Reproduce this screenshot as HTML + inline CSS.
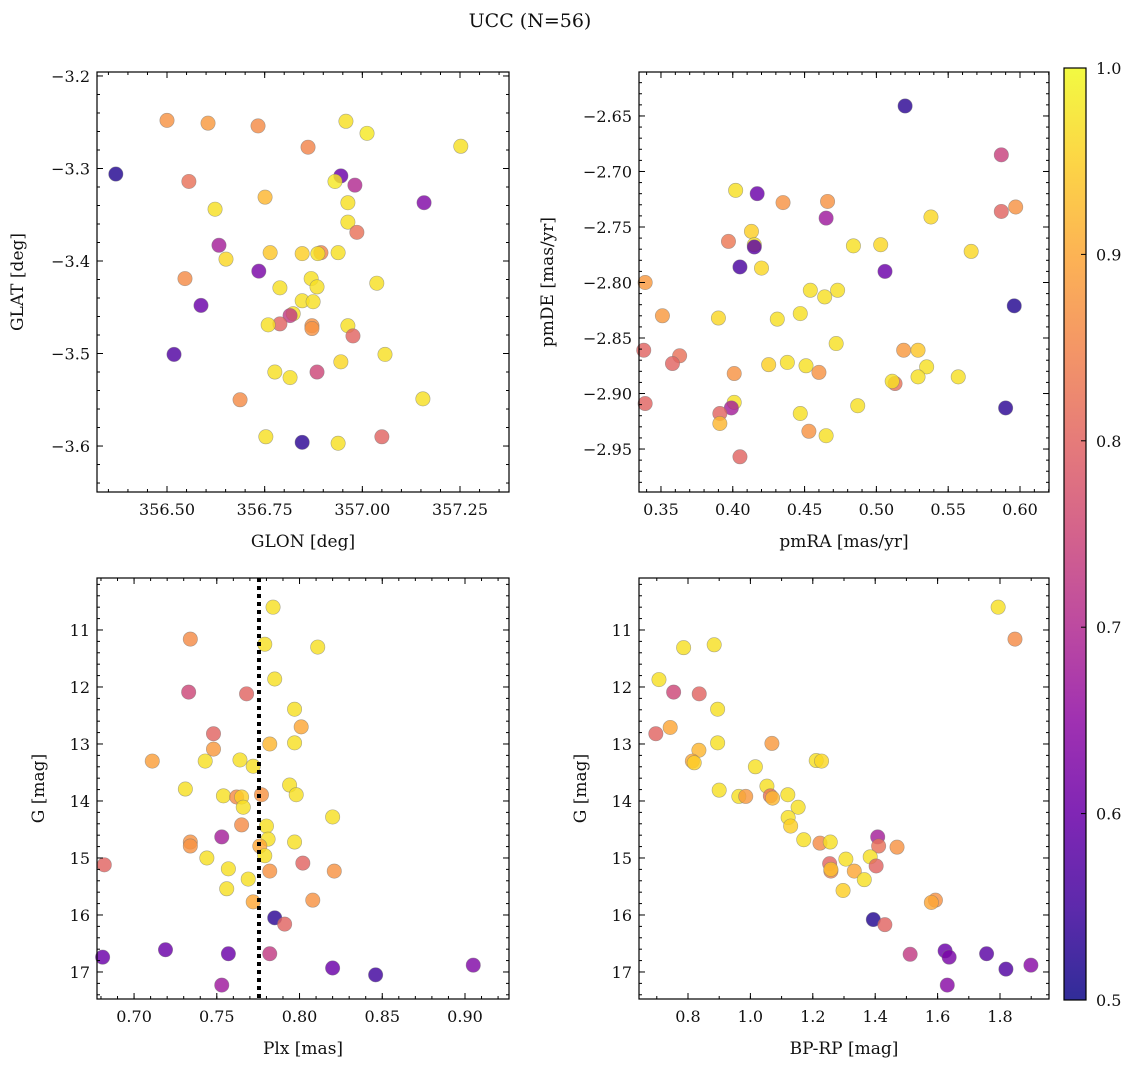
<!DOCTYPE html>
<html><head><meta charset="utf-8"><style>
html,body{margin:0;padding:0;background:#fff;}
svg text{font-family:"DejaVu Serif","Liberation Serif",serif;fill:#111;}
</style></head><body>
<svg id="fig" width="1136" height="1067" viewBox="0 0 1136 1067" xmlns="http://www.w3.org/2000/svg">
<defs>
<linearGradient id="plasma" x1="0" y1="1" x2="0" y2="0">
<stop offset="0" stop-color="#0d0887"/><stop offset="0.1" stop-color="#41049d"/><stop offset="0.2" stop-color="#6a00a8"/><stop offset="0.3" stop-color="#8f0da4"/><stop offset="0.4" stop-color="#b12a90"/><stop offset="0.5" stop-color="#cc4778"/><stop offset="0.6" stop-color="#e16462"/><stop offset="0.7" stop-color="#f2844b"/><stop offset="0.8" stop-color="#fca636"/><stop offset="0.9" stop-color="#fcce25"/><stop offset="1" stop-color="#f0f921"/>
</linearGradient>
</defs>
<text x="530" y="27" font-size="19" text-anchor="middle">UCC (N=56)</text>
</svg>
<script>
// Panel 1: GLON vs GLAT
const p1_glon=[356.50,356.605,356.733,356.958,357.012,356.861,357.252,356.369,356.556,356.945,356.981,356.930,356.751,356.623,357.158,356.963,356.963,356.986,356.633,356.764,356.846,356.894,356.886,356.938,356.651,356.735,356.546,356.869,356.884,357.037,356.789,356.587,356.846,356.874,356.823,356.815,356.789,356.759,356.871,356.871,356.963,356.976,356.518,357.058,356.945,356.776,356.884,356.815,356.687,357.155,356.753,356.846,356.938,357.050];
const p1_glat=[-3.248,-3.251,-3.254,-3.249,-3.262,-3.277,-3.276,-3.306,-3.314,-3.308,-3.318,-3.314,-3.331,-3.344,-3.337,-3.337,-3.358,-3.369,-3.383,-3.391,-3.392,-3.391,-3.392,-3.391,-3.398,-3.411,-3.419,-3.419,-3.428,-3.424,-3.429,-3.448,-3.443,-3.444,-3.457,-3.459,-3.468,-3.469,-3.470,-3.473,-3.470,-3.481,-3.501,-3.501,-3.509,-3.520,-3.520,-3.526,-3.550,-3.549,-3.590,-3.596,-3.597,-3.590];
const p1_prob=[0.87,0.88,0.86,0.97,0.98,0.85,0.97,0.52,0.82,0.6,0.7,0.98,0.92,0.97,0.63,0.97,0.97,0.82,0.68,0.94,0.95,0.85,0.97,0.97,0.96,0.62,0.86,0.97,0.97,0.97,0.97,0.6,0.97,0.97,0.97,0.73,0.8,0.97,0.87,0.87,0.97,0.8,0.57,0.97,0.96,0.97,0.75,0.97,0.86,0.97,0.97,0.53,0.97,0.8];
// Panel 2: pmRA vs pmDE
const p2_pmra=[0.520,0.587,0.402,0.417,0.466,0.597,0.435,0.587,0.538,0.465,0.413,0.415,0.397,0.415,0.503,0.484,0.566,0.405,0.420,0.506,0.339,0.454,0.473,0.464,0.596,0.447,0.351,0.390,0.431,0.472,0.338,0.519,0.529,0.363,0.358,0.438,0.451,0.425,0.535,0.460,0.401,0.557,0.529,0.513,0.511,0.339,0.401,0.487,0.590,0.399,0.391,0.447,0.391,0.453,0.465,0.405];
const p2_pmde=[-2.641,-2.685,-2.717,-2.720,-2.727,-2.732,-2.728,-2.736,-2.741,-2.742,-2.754,-2.766,-2.763,-2.768,-2.766,-2.767,-2.772,-2.786,-2.787,-2.790,-2.800,-2.807,-2.807,-2.813,-2.821,-2.828,-2.830,-2.832,-2.833,-2.855,-2.861,-2.861,-2.861,-2.866,-2.873,-2.872,-2.875,-2.874,-2.876,-2.881,-2.882,-2.885,-2.885,-2.891,-2.889,-2.909,-2.908,-2.911,-2.913,-2.913,-2.918,-2.918,-2.927,-2.934,-2.938,-2.957];
const p2_prob=[0.53,0.74,0.97,0.6,0.87,0.87,0.87,0.8,0.96,0.67,0.95,0.97,0.83,0.58,0.96,0.97,0.96,0.56,0.96,0.6,0.88,0.97,0.97,0.97,0.52,0.97,0.88,0.96,0.97,0.97,0.8,0.88,0.94,0.82,0.8,0.97,0.97,0.95,0.97,0.87,0.87,0.97,0.97,0.82,0.97,0.8,0.97,0.97,0.53,0.68,0.8,0.97,0.92,0.87,0.97,0.8];
// Panel 3: Plx vs G
const p3_plx=[0.784,0.779,0.811,0.734,0.785,0.733,0.768,0.797,0.801,0.748,0.782,0.797,0.748,0.711,0.743,0.764,0.772,0.731,0.794,0.754,0.762,0.765,0.777,0.798,0.766,0.820,0.780,0.765,0.781,0.753,0.734,0.734,0.776,0.797,0.744,0.779,0.682,0.802,0.757,0.782,0.821,0.769,0.756,0.772,0.808,0.785,0.791,0.719,0.757,0.782,0.681,0.820,0.905,0.846,0.753];
const p3_g=[10.60,11.25,11.30,11.16,11.86,12.09,12.12,12.39,12.70,12.82,13.00,12.98,13.09,13.30,13.30,13.28,13.39,13.79,13.72,13.91,13.93,13.93,13.89,13.89,14.11,14.28,14.44,14.42,14.67,14.63,14.72,14.79,14.79,14.72,15.00,14.96,15.12,15.09,15.19,15.23,15.23,15.37,15.54,15.77,15.74,16.05,16.16,16.61,16.68,16.68,16.74,16.93,16.88,17.05,17.23];
const p3_prob=[0.97,0.97,0.97,0.86,0.97,0.75,0.8,0.97,0.9,0.8,0.92,0.97,0.88,0.89,0.97,0.97,0.97,0.97,0.97,0.97,0.86,0.95,0.87,0.97,0.97,0.97,0.97,0.86,0.97,0.68,0.87,0.87,0.9,0.97,0.97,0.97,0.8,0.8,0.97,0.87,0.87,0.97,0.97,0.9,0.87,0.53,0.8,0.6,0.6,0.73,0.6,0.6,0.63,0.55,0.67];
const p3_cut=[0.7755];
// Panel 4: BP-RP vs G
const p4_bprp=[1.794,1.848,0.786,0.884,0.707,0.754,0.836,0.895,0.743,0.697,0.895,1.069,0.835,0.814,0.820,1.211,1.228,1.016,0.900,0.963,0.985,1.053,1.064,1.071,1.120,1.153,1.121,1.129,1.171,1.223,1.256,1.408,1.411,1.470,1.384,1.306,1.403,1.254,1.258,1.258,1.333,1.365,1.297,1.593,1.580,1.394,1.431,1.512,1.624,1.637,1.757,1.819,1.899,1.631];
const p4_g=[10.60,11.16,11.31,11.26,11.87,12.09,12.12,12.39,12.71,12.82,12.98,12.99,13.11,13.30,13.33,13.29,13.30,13.40,13.81,13.92,13.92,13.74,13.91,13.95,13.89,14.11,14.29,14.44,14.68,14.74,14.72,14.63,14.79,14.81,14.98,15.02,15.14,15.10,15.23,15.20,15.23,15.38,15.57,15.74,15.78,16.08,16.17,16.69,16.63,16.74,16.68,16.95,16.88,17.23];
const p4_prob=[0.97,0.86,0.97,0.97,0.97,0.75,0.8,0.97,0.9,0.8,0.97,0.88,0.92,0.9,0.95,0.97,0.96,0.97,0.97,0.97,0.88,0.97,0.82,0.92,0.97,0.97,0.97,0.95,0.97,0.86,0.97,0.68,0.82,0.87,0.97,0.97,0.8,0.8,0.85,0.93,0.9,0.97,0.95,0.87,0.9,0.52,0.8,0.73,0.6,0.62,0.58,0.57,0.64,0.64];
const cb_ticks=[0.5,0.6,0.7,0.8,0.9,1.0];

const NS='http://www.w3.org/2000/svg';
const fig=document.getElementById('fig');
const stops=[[13,8,135],[65,4,157],[106,0,168],[143,13,164],[177,42,144],[204,71,120],[225,100,98],[242,132,75],[252,166,54],[252,206,37],[240,249,33]];
function plasma(p){let t=(p-0.5)/0.5;t=Math.max(0,Math.min(1,t))*10;const i=Math.min(9,Math.floor(t)),f=t-i;const a=stops[i],b=stops[i+1];return 'rgb('+a.map((v,k)=>Math.round(v+(b[k]-v)*f)).join(',')+')';}
function mk(tag,attrs,parent){const e=document.createElementNS(NS,tag);for(const k in attrs)e.setAttribute(k,attrs[k]);(parent||fig).appendChild(e);return e;}
function ticksRange(a,b,s){const r=[];const n0=Math.ceil(a/s-1e-9),n1=Math.floor(b/s+1e-9);for(let n=n0;n<=n1;n++)r.push(+(n*s).toFixed(6));return r;}

function panel(cfg){
  const g=mk('g',{});
  
  
  const L=cfg.x,T=cfg.y,W=cfg.w,H=cfg.h;
  const sx=v=>L+(v-cfg.x0)/(cfg.x1-cfg.x0)*W;
  const sy=cfg.invert?(v=>T+(v-cfg.y0)/(cfg.y1-cfg.y0)*H):(v=>T+(cfg.y1-v)/(cfg.y1-cfg.y0)*H);
  const xs=cfg.xs,ys=cfg.ys,ps=cfg.ps;
  for(let i=0;i<xs.length;i++){
    const c=mk('circle',{cx:sx(xs[i]),cy:sy(ys[i]),r:7.2,fill:plasma(ps[i]),'fill-opacity':0.82,stroke:'#777','stroke-opacity':0.6,'stroke-width':0.6},g);
    
    
  }
  if(cfg.vline){const vx=sx(cfg.vline[0]);const l=mk('line',{x1:vx,x2:vx,y1:T,y2:T+H,stroke:'#000','stroke-width':4,'stroke-dasharray':'4,4'},g);
    
    }
  const fr=mk('rect',{x:L,y:T,width:W,height:H,fill:'none',stroke:'#000','stroke-width':1.2},g);
  
  
  const xmin=Math.min(cfg.x0,cfg.x1),xmax=Math.max(cfg.x0,cfg.x1),ymin=Math.min(cfg.y0,cfg.y1),ymax=Math.max(cfg.y0,cfg.y1);
  ticksRange(xmin,xmax,cfg.xminor).forEach(v=>{const X=sx(v);mk('line',{x1:X,x2:X,y1:T+H,y2:T+H-3,stroke:'#000'},g);mk('line',{x1:X,x2:X,y1:T,y2:T+3,stroke:'#000'},g);});
  ticksRange(ymin,ymax,cfg.yminor).forEach(v=>{const Y=sy(v);mk('line',{x1:L,x2:L+3,y1:Y,y2:Y,stroke:'#000'},g);mk('line',{x1:L+W,x2:L+W-3,y1:Y,y2:Y,stroke:'#000'},g);});
  cfg.xt.forEach(v=>{const X=sx(v);mk('line',{x1:X,x2:X,y1:T+H,y2:T+H-6,stroke:'#000'},g);mk('line',{x1:X,x2:X,y1:T,y2:T+6,stroke:'#000'},g);
    const t=mk('text',{x:X,y:T+H+23,'font-size':16,'text-anchor':'middle'},g);t.textContent=v.toFixed(cfg.xd);
    
    });
  cfg.yt.forEach(v=>{const Y=sy(v);mk('line',{x1:L,x2:L+6,y1:Y,y2:Y,stroke:'#000'},g);mk('line',{x1:L+W,x2:L+W-6,y1:Y,y2:Y,stroke:'#000'},g);
    const t=mk('text',{x:L-7,y:Y+6,'font-size':16,'text-anchor':'end'},g);t.textContent=(v<0?'\u2212':'')+Math.abs(v).toFixed(cfg.yd);
    
    });
  const xl=mk('text',{x:L+W/2,y:T+H+55,'font-size':17,'text-anchor':'middle'},g);xl.textContent=cfg.xlabel;
  
  
  const yl=mk('text',{x:0,y:0,'font-size':17,'text-anchor':'middle',transform:`translate(${cfg.ylx},${T+H/2}) rotate(-90)`},g);yl.textContent=cfg.ylabel;
  
  
}

panel({name:'glon-glat-panel',x:97,y:72,w:412,h:420,x0:356.3208,x1:357.3754,y0:-3.6497,y1:-3.1957,xs:p1_glon,ys:p1_glat,ps:p1_prob,
  xt:[356.5,356.75,357.0,357.25],xd:2,xminor:0.05,yt:[-3.2,-3.3,-3.4,-3.5,-3.6],yd:1,yminor:0.02,xlabel:'GLON [deg]',ylabel:'GLAT [deg]',ylx:23});
panel({name:'pm-panel',x:639,y:72,w:410,h:420,x0:0.3347,x1:0.6202,y0:-2.9887,y1:-2.6104,xs:p2_pmra,ys:p2_pmde,ps:p2_prob,
  xt:[0.35,0.4,0.45,0.5,0.55,0.6],xd:2,xminor:0.01,yt:[-2.65,-2.7,-2.75,-2.8,-2.85,-2.9,-2.95],yd:2,yminor:0.01,xlabel:'pmRA [mas/yr]',ylabel:'pmDE [mas/yr]',ylx:553});
panel({name:'plx-g-panel',x:97,y:578,w:412,h:421,x0:0.6776,x1:0.9266,y0:10.088,y1:17.474,invert:true,xs:p3_plx,ys:p3_g,ps:p3_prob,vline:p3_cut,
  xt:[0.7,0.75,0.8,0.85,0.9],xd:2,xminor:0.01,yt:[11,12,13,14,15,16,17],yd:0,yminor:0.2,xlabel:'Plx [mas]',ylabel:'G [mag]',ylx:44});
panel({name:'cmd-panel',x:639,y:578,w:410,h:421,x0:0.643,x1:1.957,y0:10.088,y1:17.474,invert:true,xs:p4_bprp,ys:p4_g,ps:p4_prob,
  xt:[0.8,1.0,1.2,1.4,1.6,1.8],xd:1,xminor:0.1,yt:[11,12,13,14,15,16,17],yd:0,yminor:0.2,xlabel:'BP-RP [mag]',ylabel:'G [mag]',ylx:586});

// colorbar
const cbg=mk('g',{});


const CT=68,CH=932,CL=1064,CW=22;
mk('rect',{x:CL,y:CT,width:CW,height:CH,fill:'url(#plasma)','fill-opacity':0.85,stroke:'#000','stroke-width':1.2},cbg);
cb_ticks.forEach(v=>{const Y=CT+(1.0-v)/0.5*CH;mk('line',{x1:CL+CW,x2:CL+CW-5,y1:Y,y2:Y,stroke:'#000'},cbg);
  const t=mk('text',{x:CL+CW+10,y:Y+6,'font-size':16},cbg);t.textContent=v.toFixed(1);
  
  });
</script>
</body></html>
